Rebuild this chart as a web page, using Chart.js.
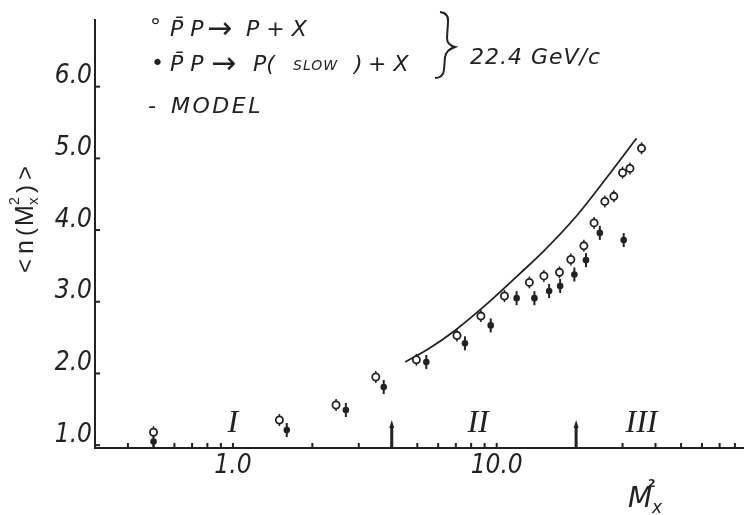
<!DOCTYPE html>
<html>
<head>
<meta charset="utf-8">
<script src="https://cdn.jsdelivr.net/npm/chart.js@4.4.1/dist/chart.umd.min.js"></script>
<style>
  html, body { margin: 0; padding: 0; background: #fff; }
</style>
</head>
<body>
<canvas id="chart" width="749" height="515"></canvas>
<script>
// ---- values ----
const openX  = [0.5, 1.5, 2.46, 3.48, 4.96, 7.07, 8.71, 10.7, 13.3, 15.1, 17.3, 19.1, 21.4, 23.4, 25.7, 27.8, 30.0, 32.0, 35.4];
const openY  = [1.18, 1.35, 1.56, 1.95, 2.19, 2.53, 2.80, 3.08, 3.27, 3.36, 3.41, 3.59, 3.78, 4.10, 4.40, 4.47, 4.80, 4.86, 5.14];
const slowX  = [0.5, 1.6, 2.68, 3.73, 5.41, 7.58, 9.49, 11.9, 13.9, 15.8, 17.4, 19.7, 21.8, 24.6, 30.3];
const slowY  = [1.05, 1.21, 1.49, 1.81, 2.16, 2.42, 2.67, 3.05, 3.05, 3.15, 3.22, 3.38, 3.58, 3.96, 3.86];
const modelX = [4.5, 5.5, 6.95, 9.25, 12.3, 15.1, 20.1, 26.1, 33.9];
const modelY = [2.16, 2.34, 2.60, 2.98, 3.40, 3.71, 4.20, 4.73, 5.28];

const xTickVals = [0.4, 0.5, 0.6, 0.7, 0.8, 0.9, 1, 2, 3, 4, 5, 6, 7, 8, 9, 10, 20, 30, 40, 50, 60, 70, 80];
const xTickLabels = { 1: '1.0', 10: '10.0' };
const yTickVals = [1, 2, 3, 4, 5, 6];

const regionBounds = [4, 20];
const regionNames  = ['I', 'II', 'III'];
const regionX      = [1.0, 8.5, 35.4];

const INK = '#222';
const toPts = (xs, ys) => xs.map((x, i) => ({ x, y: ys[i] }));

// inward ticks, region marks, legend text, error bars
const decor = {
    id: 'decor',
    beforeDatasetsDraw(chart) {
        const ctx = chart.ctx;
        ctx.save();
        ctx.strokeStyle = INK;
        [[0, 6, 1.5], [1, 7, 2]].forEach(([di, h, w]) => {
            ctx.lineWidth = w;
            chart.getDatasetMeta(di).data.forEach(p => {
                ctx.beginPath(); ctx.moveTo(p.x, p.y - h); ctx.lineTo(p.x, p.y + h); ctx.stroke();
            });
        });
        ctx.restore();
    },
    afterDraw(chart) {
        const ctx = chart.ctx, xs = chart.scales.x, ys = chart.scales.y;
        const axisY = ys.bottom, axisX = xs.left;
        ctx.save();
        ctx.strokeStyle = INK; ctx.fillStyle = INK; ctx.lineWidth = 2;

        xs.ticks.forEach(t => {
            const px = xs.getPixelForValue(t.value);
            ctx.beginPath(); ctx.moveTo(px, axisY); ctx.lineTo(px, axisY - 5); ctx.stroke();
        });
        ys.ticks.forEach(t => {
            const py = ys.getPixelForValue(t.value);
            ctx.beginPath(); ctx.moveTo(axisX, py); ctx.lineTo(axisX + 5, py); ctx.stroke();
        });

        // region boundaries
        regionBounds.forEach(v => {
            const px = xs.getPixelForValue(v);
            ctx.lineWidth = 3;
            ctx.beginPath(); ctx.moveTo(px, axisY); ctx.lineTo(px, axisY - 22); ctx.stroke();
            ctx.beginPath(); ctx.moveTo(px - 2.5, axisY - 20); ctx.lineTo(px, axisY - 28); ctx.lineTo(px + 2.5, axisY - 20); ctx.fill();
        });
        ctx.font = 'italic 32px "Liberation Serif", serif';
        ctx.textAlign = 'center'; ctx.textBaseline = 'alphabetic';
        regionNames.forEach((n, i) => ctx.fillText(n, xs.getPixelForValue(regionX[i]), 432));

        // x title  M_x^2
        ctx.textAlign = 'left';
        ctx.font = 'italic 28px "DejaVu Sans", sans-serif';
        ctx.fillText('M', 628, 507);
        ctx.font = 'italic 17px "DejaVu Sans", sans-serif';
        ctx.fillText('x', 652, 513);
        ctx.font = 'bold 11px "DejaVu Sans", sans-serif';
        ctx.fillText('2', 648, 487);

        // y title  <n(M_x^2)>, rotated
        ctx.save();
        ctx.translate(26, 218);
        ctx.rotate(-Math.PI / 2);
        ctx.textBaseline = 'middle';
        const yt = (txt, x, y, size) => { ctx.font = `${size}px "Liberation Sans", sans-serif`; ctx.fillText(txt, x, y); };
        yt('<', -55, 0, 24);
        yt('n', -36, 0, 25);
        yt('(', -18, 0, 24);
        yt('M', -8, 0, 25);
        yt('x', 13, 8, 15);
        yt('2', 13, -11, 14);
        yt(')', 25, 0, 24);
        yt('>', 38, 0, 24);
        ctx.restore();

        // legend block
        const f = s => `italic ${s}px "DejaVu Sans", sans-serif`;
        const seg = (txt, x, y, size, sp) => {
            ctx.font = f(size);
            ctx.letterSpacing = (sp || 0) + 'px';
            ctx.textBaseline = 'middle';
            ctx.fillText(txt, x, y);
        };
        seg('°', 150, 28, 22);
        seg('P\u0304 P', 170, 30, 22);
        seg('\u2192', 207, 30, 30);
        seg('P + X', 246, 30, 22);
        seg('•', 151, 64, 22);
        seg('P\u0304 P', 170, 65, 22);
        seg('\u2192', 211, 65, 30);
        seg('P(', 253, 65, 22);
        seg('SLOW', 293, 66, 14, 1);
        seg(')', 354, 65, 22);
        seg('+ X', 368, 65, 22);
        seg('-', 148, 107, 22);
        seg('MODEL', 171, 107, 22, 2.5);
        seg('22.4 GeV/c', 470, 58, 22, 1);
        ctx.letterSpacing = '0px';

        // brace
        ctx.lineWidth = 2;
        ctx.beginPath();
        ctx.moveTo(440, 12);
        ctx.quadraticCurveTo(449, 13, 448, 22);
        ctx.lineTo(447, 38);
        ctx.quadraticCurveTo(447, 45, 455, 47);
        ctx.quadraticCurveTo(446, 50, 445, 57);
        ctx.lineTo(444, 70);
        ctx.quadraticCurveTo(443, 78, 435, 78);
        ctx.stroke();
        ctx.restore();
    }
};

new Chart(document.getElementById('chart'), {
    type: 'scatter',
    data: {
        datasets: [
            { label: 'open', data: toPts(openX, openY), pointRadius: 3.6, pointBorderWidth: 1.8,
              pointBackgroundColor: '#fff', pointBorderColor: INK, order: 1 },
            { label: 'slow', data: toPts(slowX, slowY), pointRadius: 3.3, pointBorderWidth: 0,
              pointBackgroundColor: INK, pointBorderColor: INK, order: 2 },
            { label: 'model', data: toPts(modelX, modelY), showLine: true, pointRadius: 0,
              borderColor: INK, borderWidth: 1.8, cubicInterpolationMode: 'monotone', order: 3 }
        ]
    },
    options: {
        responsive: false,
        animation: false,
        layout: { padding: { top: 20, left: 0, right: 0, bottom: 0 } },
        plugins: { legend: { display: false }, tooltip: { enabled: false } },
        scales: {
            x: {
                type: 'logarithmic', min: 0.3, max: 86,
                afterBuildTicks: s => { s.ticks = xTickVals.map(v => ({ value: v })); },
                afterFit: s => { s.height = 67; },
                grid: { display: false, drawTicks: false },
                border: { display: true, color: INK, width: 2 },
                ticks: {
                    autoSkip: false, maxRotation: 0, padding: 3, color: INK,
                    font: { family: '"Liberation Sans Narrow", "DejaVu Sans Condensed", "Liberation Sans", sans-serif', style: 'italic', size: 26 },
                    callback: v => xTickLabels[v] || ''
                }
            },
            y: {
                min: 0.96, max: 6.93,
                afterBuildTicks: s => { s.ticks = yTickVals.map(v => ({ value: v })); },
                afterFit: s => { s.width = 95; },
                grid: { display: false, drawTicks: false },
                border: { display: true, color: INK, width: 2 },
                ticks: {
                    padding: 3, labelOffset: -10, color: INK,
                    font: { family: '"Liberation Sans Narrow", "DejaVu Sans Condensed", "Liberation Sans", sans-serif', style: 'italic', size: 26 },
                    callback: v => v.toFixed(1)
                }
            }
        }
    },
    plugins: [decor]
});
</script>
</body>
</html>
